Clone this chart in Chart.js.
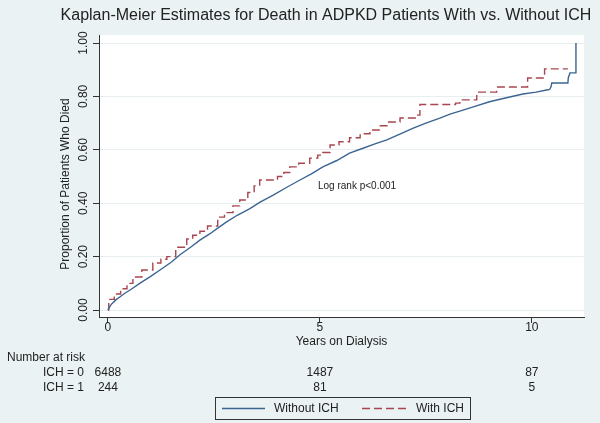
<!DOCTYPE html>
<html>
<head>
<meta charset="utf-8">
<script src="https://cdn.jsdelivr.net/npm/chart.js@4.4.1/dist/chart.umd.min.js"></script>
<style>
  html, body { margin: 0; padding: 0; background: #eaf2f3; }
  #wrap { width: 600px; height: 423px; position: relative; }
  canvas { display: block; }
</style>
</head>
<body>
<div id="wrap"><canvas id="c" width="600" height="423"></canvas></div>
<script>
// ---- Data ----
const chartTitle = "Kaplan-Meier Estimates for Death in ADPKD Patients With vs. Without ICH";
const seriesNames = ["Without ICH", "With ICH"];

// Without ICH (ICH = 0)
const withoutTime = [0, 0.05, 0.1, 0.2, 0.28, 0.4, 0.55, 0.75, 1.0, 1.23, 1.5, 1.7, 1.95, 2.17, 2.4, 2.59, 2.8, 3.05, 3.35, 3.6, 3.9, 4.2, 4.53, 4.8, 5.07, 5.4, 5.7, 6.0, 6.3, 6.58, 6.9, 7.19, 7.5, 7.83, 8.07, 8.3, 8.6, 9.0, 9.4, 9.79, 10.1, 10.35, 10.42, 10.45, 10.47, 10.85, 10.86, 10.9, 11.04, 11.04];
const withoutProb = [0, 0.015, 0.025, 0.04, 0.049, 0.063, 0.078, 0.10, 0.125, 0.15, 0.18, 0.207, 0.235, 0.262, 0.285, 0.307, 0.33, 0.355, 0.38, 0.405, 0.43, 0.458, 0.487, 0.51, 0.536, 0.56, 0.588, 0.605, 0.622, 0.637, 0.66, 0.68, 0.70, 0.719, 0.734, 0.745, 0.76, 0.78, 0.795, 0.809, 0.816, 0.824, 0.826, 0.835, 0.85, 0.85, 0.87, 0.888, 0.888, 1.0];

// With ICH (ICH = 1) - step points (time of jump, new value)
const withTime = [0, 0.02, 0.15, 0.3, 0.45, 0.59, 0.8, 1.06, 1.25, 1.39, 1.6, 1.86, 2.0, 2.17, 2.35, 2.59, 2.75, 2.95, 3.11, 3.3, 3.45, 3.58, 4.0, 4.15, 4.29, 4.5, 4.76, 4.95, 5.07, 5.24, 5.45, 5.7, 5.95, 6.18, 6.4, 6.58, 6.89, 7.28, 7.36, 8.2, 8.3, 8.7, 9.17, 9.9, 10.3, 10.85];
const withProb = [0, 0.04, 0.06, 0.08, 0.10, 0.124, 0.15, 0.176, 0.19, 0.20, 0.235, 0.266, 0.28, 0.295, 0.315, 0.348, 0.365, 0.39, 0.412, 0.44, 0.465, 0.487, 0.50, 0.515, 0.536, 0.55, 0.569, 0.58, 0.59, 0.618, 0.63, 0.645, 0.66, 0.674, 0.69, 0.704, 0.719, 0.73, 0.77, 0.775, 0.787, 0.816, 0.835, 0.869, 0.903, 0.903];

const xTicks = [0, 5, 10];
const yTicks = [0, 0.2, 0.4, 0.6, 0.8, 1.0];
const yTickLabels = ["0.00", "0.20", "0.40", "0.60", "0.80", "1.00"];
const xTitle = "Years on Dialysis";
const yTitle = "Proportion of Patients Who Died";
const annotationText = "Log rank p<0.001";
const riskHeader = "Number at risk";
const riskRowLabels = ["ICH = 0", "ICH = 1"];
const riskTimes = [0, 5, 10];
const riskRow0 = [6488, 1487, 87];
const riskRow1 = [244, 81, 5];

// ---- Styling ----
const BG = "#eaf2f3";
const BLUE = "#3b6591";
const RED = "#a8464d";
const TXT = "#222222";
const FONT = "'Liberation Sans', Arial, Helvetica, sans-serif";

const toXY = (xs, ys) => xs.map((x, i) => ({ x: x, y: ys[i] }));

const textPlugin = {
  id: 'textPlugin',
  beforeDraw(chart) {
    const { ctx, chartArea: a } = chart;
    ctx.save();
    ctx.fillStyle = BG;
    ctx.fillRect(0, 0, chart.width, chart.height);
    ctx.fillStyle = "#ffffff";
    ctx.fillRect(a.left, a.top, a.right - a.left, a.bottom - a.top);
    ctx.restore();
  },
  afterDraw(chart) {
    const { ctx, chartArea: a } = chart;
    const xs = chart.scales.x, ys = chart.scales.y;
    ctx.save();
    ctx.fillStyle = TXT;

    // Title
    ctx.font = "16px " + FONT;
    ctx.textAlign = "center";
    ctx.textBaseline = "middle";
    ctx.fillText(chartTitle, 326, 16);

    // Y tick labels (rotated)
    ctx.font = "12px " + FONT;
    yTicks.forEach((v, i) => {
      const py = ys.getPixelForValue(v);
      ctx.save();
      ctx.translate(84, py);
      ctx.rotate(-Math.PI / 2);
      ctx.textAlign = "center";
      ctx.textBaseline = "middle";
      ctx.fillText(yTickLabels[i], 0, 0);
      ctx.restore();
    });

    // Y title
    ctx.save();
    ctx.translate(66, 184);
    ctx.rotate(-Math.PI / 2);
    ctx.textAlign = "center";
    ctx.textBaseline = "middle";
    ctx.fillText(yTitle, 0, 0);
    ctx.restore();

    // X tick labels
    ctx.textAlign = "center";
    ctx.textBaseline = "middle";
    xTicks.forEach(v => {
      ctx.fillText(String(v), xs.getPixelForValue(v), 328);
    });

    // X title
    ctx.fillText(xTitle, (a.left + a.right) / 2, 342);

    // Annotation
    ctx.font = "10px " + FONT;
    ctx.textAlign = "left";
    ctx.fillText(annotationText, 318, 186);

    // Number at risk table
    ctx.font = "12px " + FONT;
    ctx.textAlign = "left";
    ctx.fillText(riskHeader, 7, 358);
    ctx.textAlign = "right";
    ctx.fillText(riskRowLabels[0], 84, 373);
    ctx.fillText(riskRowLabels[1], 84, 388);
    ctx.textAlign = "center";
    riskTimes.forEach((t, i) => {
      const px = xs.getPixelForValue(t);
      ctx.fillText(String(riskRow0[i]), px, 373);
      ctx.fillText(String(riskRow1[i]), px, 388);
    });

    // Legend box
    ctx.strokeStyle = "#333333";
    ctx.lineWidth = 1;
    ctx.strokeRect(215.5, 397.5, 255, 22);
    ctx.lineWidth = 1.3;
    ctx.strokeStyle = BLUE;
    ctx.beginPath(); ctx.moveTo(222, 408.5); ctx.lineTo(265, 408.5); ctx.stroke();
    ctx.strokeStyle = RED;
    ctx.setLineDash([8, 4]);
    ctx.beginPath(); ctx.moveTo(362, 408.5); ctx.lineTo(407, 408.5); ctx.stroke();
    ctx.setLineDash([]);
    ctx.fillStyle = TXT;
    ctx.textAlign = "left";
    ctx.fillText(seriesNames[0], 274, 409);
    ctx.fillText(seriesNames[1], 416, 409);

    ctx.restore();
  }
};

new Chart(document.getElementById('c'), {
  type: 'line',
  data: {
    datasets: [
      {
        label: seriesNames[0],
        data: toXY(withoutTime, withoutProb),
        borderColor: BLUE,
        borderWidth: 1.4,
        pointRadius: 0,
        fill: false,
        tension: 0
      },
      {
        label: seriesNames[1],
        data: toXY(withTime, withProb),
        borderColor: RED,
        borderWidth: 1.4,
        borderDash: [8, 4],
        pointRadius: 0,
        fill: false,
        stepped: 'before'
      }
    ]
  },
  options: {
    responsive: false,
    animation: false,
    devicePixelRatio: 1,
    layout: { padding: { top: 35, right: 16, left: 0, bottom: 0 } },
    plugins: { legend: { display: false }, title: { display: false }, tooltip: { enabled: false } },
    scales: {
      x: {
        type: 'linear',
        min: -0.21,
        max: 11.23,
        afterBuildTicks: s => { s.ticks = xTicks.map(v => ({ value: v })); },
        afterFit: s => { s.height = 106; },
        ticks: { display: false },
        grid: { drawOnChartArea: false, drawTicks: true, tickLength: 6, tickColor: '#333333' },
        border: { display: true, color: '#333333', width: 1 }
      },
      y: {
        type: 'linear',
        min: -0.026,
        max: 1.03,
        afterBuildTicks: s => { s.ticks = yTicks.map(v => ({ value: v })); },
        afterFit: s => { s.width = 99; },
        ticks: { display: false },
        grid: { color: '#e6eef0', lineWidth: 1, drawTicks: true, tickLength: 6, tickColor: '#333333' },
        border: { display: true, color: '#333333', width: 1 }
      }
    }
  },
  plugins: [textPlugin]
});
</script>
</body>
</html>
